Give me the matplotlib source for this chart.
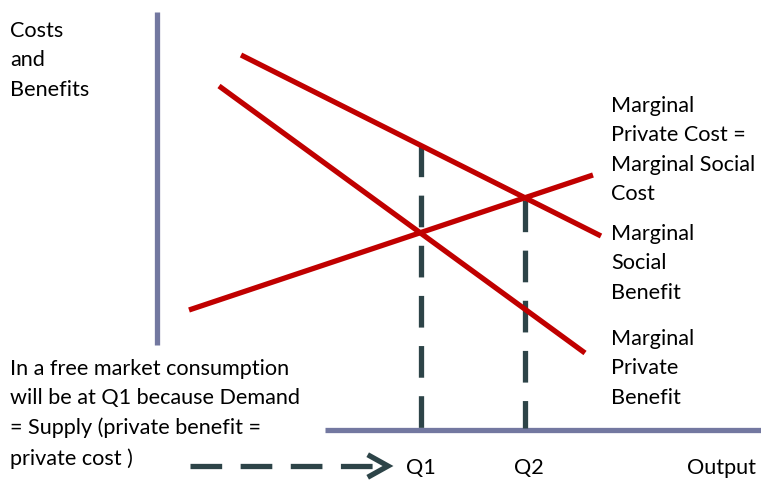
import matplotlib
matplotlib.use("Agg")
import matplotlib.pyplot as plt

plt.rcParams["font.family"] = ["Lato", "DejaVu Sans"]

RED = "#c00000"
AXIS = "#7378a0"
DASH = "#2d4448"

# curves, in pixel-like coordinates of the slide (y grows downward)
msb_x = [241, 601]
msb_y = [55, 236]
mpb_x = [219, 585]
mpb_y = [86, 353]
cost_x = [189, 593]
cost_y = [310, 175]

# quantities and where their guide lines start
q_labels = ["Q1", "Q2"]
q_x = [421, 525]
q_top = [145, 200]

axis_y = 430
axis_x0 = 325

fig = plt.figure(figsize=(7.61, 4.87), dpi=100)
ax = fig.add_axes([0, 0, 1, 1])
ax.set_xlim(0, 761)
ax.set_ylim(487, 0)
ax.axis("off")

# axes of the diagram
ax.plot([157, 157], [12, 345], color=AXIS, lw=3.8, solid_capstyle="butt")
ax.plot([axis_x0, 761], [axis_y, axis_y], color=AXIS, lw=3.8, solid_capstyle="butt")

# dashed drop lines
for x, top in zip(q_x, q_top):
    ax.plot([x, x], [top, axis_y - 2], color=DASH, lw=3.8,
            dashes=(6, 3.5), solid_capstyle="butt")

# curves
for xs, ys in [(msb_x, msb_y), (mpb_x, mpb_y), (cost_x, cost_y)]:
    ax.plot(xs, ys, color=RED, lw=3.8, solid_capstyle="butt")

# dashed arrow pointing at Q1
ax.plot([190, 378], [466, 466], color=DASH, lw=3.8, dashes=(6, 3.5),
        dash_capstyle="butt")
ax.plot([370, 388, 370], [456, 466, 476], color=DASH, lw=3.8,
        solid_joinstyle="miter")

fs = 15.6
lsp = 1.58
ax.text(10, 21, "Costs\nand\nBenefits", fontsize=fs, va="top", linespacing=lsp)
ax.text(611, 96, "Marginal\nPrivate Cost =\nMarginal Social\nCost",
        fontsize=fs, va="top", linespacing=lsp)
ax.text(611, 224, "Marginal\nSocial\nBenefit", fontsize=fs, va="top",
        linespacing=lsp)
ax.text(611, 329, "Marginal\nPrivate\nBenefit", fontsize=fs, va="top",
        linespacing=lsp)
ax.text(10, 359, "In a free market consumption\nwill be at Q1 because Demand\n"
        "= Supply (private benefit =\nprivate cost )",
        fontsize=fs, va="top", linespacing=lsp)
for lab, x in zip(q_labels, [421, 529]):
    ax.text(x, 468, lab, fontsize=fs, ha="center", va="center")
ax.text(687, 468, "Output", fontsize=fs, va="center")

fig.savefig("out.png", dpi=100)
